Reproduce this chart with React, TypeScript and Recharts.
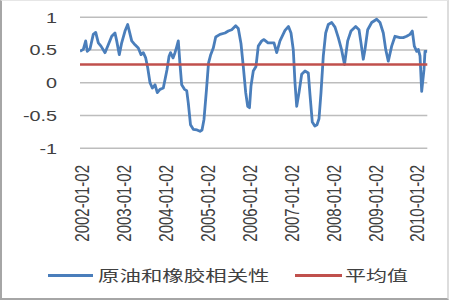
import React from 'react';
import { LineChart, Line, XAxis, YAxis, CartesianGrid, ReferenceLine, Legend } from 'recharts';

const years = [
  2002.000, 2002.079, 2002.136, 2002.174, 2002.239, 2002.317, 2002.375, 2002.437, 2002.501, 2002.597,
  2002.675, 2002.757, 2002.835, 2002.876, 2002.938, 2002.995, 2003.074, 2003.138, 2003.177, 2003.234,
  2003.313, 2003.391, 2003.456, 2003.511, 2003.568, 2003.616, 2003.671, 2003.726, 2003.790, 2003.845,
  2003.909, 2003.988, 2004.045, 2004.076, 2004.124, 2004.160, 2004.220, 2004.267, 2004.308, 2004.346,
  2004.387, 2004.427, 2004.494, 2004.547, 2004.585, 2004.637, 2004.704, 2004.792, 2004.864, 2004.912,
  2004.959, 2005.019, 2005.067, 2005.115, 2005.181, 2005.239, 2005.341, 2005.461, 2005.539, 2005.621,
  2005.716, 2005.778, 2005.842, 2005.897, 2005.955, 2006.002, 2006.045, 2006.081, 2006.136, 2006.200,
  2006.255, 2006.337, 2006.391, 2006.487, 2006.630, 2006.695, 2006.773, 2006.893, 2006.976, 2007.036,
  2007.091, 2007.131, 2007.172, 2007.227, 2007.291, 2007.370, 2007.449, 2007.489, 2007.544, 2007.604,
  2007.656, 2007.704, 2007.752, 2007.807, 2007.864, 2007.926, 2008.007, 2008.086, 2008.165, 2008.241,
  2008.313, 2008.389, 2008.468, 2008.580, 2008.659, 2008.706, 2008.761, 2008.802, 2008.866, 2008.962,
  2009.081, 2009.160, 2009.239, 2009.296, 2009.358, 2009.439, 2009.518, 2009.637, 2009.716, 2009.797,
  2009.876, 2009.931, 2009.979, 2010.036, 2010.074, 2010.115, 2010.155, 2010.210, 2010.234, 2010.289,
];

const corr = [
  0.48, 0.51, 0.64, 0.48, 0.52, 0.74, 0.77, 0.61, 0.56, 0.46,
  0.58, 0.71, 0.76, 0.64, 0.43, 0.61, 0.79, 0.89, 0.79, 0.64,
  0.58, 0.53, 0.43, 0.46, 0.38, 0.23, 0.00, -0.08, -0.03, -0.15,
  -0.10, -0.08, 0.10, 0.20, 0.40, 0.46, 0.38, 0.46, 0.55, 0.64,
  0.28, -0.03, -0.10, -0.12, -0.31, -0.64, -0.71, -0.72, -0.74, -0.72,
  -0.56, -0.10, 0.30, 0.42, 0.53, 0.70, 0.74, 0.76, 0.79, 0.81,
  0.87, 0.83, 0.60, 0.25, -0.15, -0.36, -0.38, -0.05, 0.18, 0.25,
  0.56, 0.64, 0.66, 0.61, 0.61, 0.46, 0.64, 0.80, 0.86, 0.76,
  0.50, 0.00, -0.36, -0.15, 0.13, 0.18, 0.15, -0.18, -0.60, -0.66,
  -0.64, -0.55, -0.15, 0.41, 0.76, 0.89, 0.92, 0.85, 0.69, 0.51,
  0.28, 0.64, 0.79, 0.86, 0.81, 0.61, 0.36, 0.51, 0.81, 0.92,
  0.97, 0.92, 0.76, 0.51, 0.33, 0.56, 0.71, 0.69, 0.69, 0.71,
  0.74, 0.79, 0.56, 0.48, 0.51, 0.41, -0.13, 0.20, 0.48, 0.48,
];

const averageValue = 0.28;
const xTicks = [2002, 2003, 2004, 2005, 2006, 2007, 2008, 2009, 2010];
const yTicks = [-1, -0.5, 0, 0.5, 1];
const seriesName = '原油和橡胶相关性';
const averageName = '平均值';

const data = years.map((t, i) => ({ t, corr: corr[i] }));

const BLUE = '#4A7EBB';
const RED = '#C0504D';
const TEXT = '#404040';
const DIGIT_FONT = '"Liberation Sans", Arial, sans-serif';
const CJK_FONT = '"Noto Sans CJK SC", "Noto Sans", sans-serif';

const YTick = (props: any) => {
  const { x, y, payload } = props;
  return (
    <text
      transform={`translate(${x},${y}) scale(1.32,1)`}
      textAnchor="end"
      dy="0.36em"
      fontSize={15}
      fontFamily={DIGIT_FONT}
      fill={TEXT}
    >
      {String(payload.value)}
    </text>
  );
};

const XTick = (props: any) => {
  const { x, y, payload } = props;
  return (
    <text
      transform={`translate(${x + 2},${y}) scale(1.35,1) rotate(-90)`}
      textAnchor="end"
      dy="0.36em"
      fontSize={15}
      fontFamily={DIGIT_FONT}
      fill={TEXT}
    >
      {`${payload.value}-01-02`}
    </text>
  );
};

const LegendContent = () => (
  <svg width={450} height={40}>
    <line x1={48} x2={93} y1={20.5} y2={20.5} stroke={BLUE} strokeWidth={3} />
    <text
      transform="translate(98,25.5) scale(1.43,1)"
      fontSize={15}
      fontFamily={CJK_FONT}
      fill={TEXT}
    >
      {seriesName}
    </text>
    <line x1={295} x2={342} y1={20.5} y2={20.5} stroke={RED} strokeWidth={3} />
    <text
      transform="translate(345,25.5) scale(1.4,1)"
      fontSize={15}
      fontFamily={CJK_FONT}
      fill={TEXT}
    >
      {averageName}
    </text>
  </svg>
);

export default function App() {
  return (
    <div style={{ position: 'absolute', left: 0, top: 0, width: 450, height: 300, background: '#fff' }}>
      <LineChart
        width={450}
        height={300}
        data={data}
        margin={{ top: 17.3, right: 22.7, bottom: 0, left: 0 }}
      >
        <CartesianGrid vertical={false} stroke="#bdbdbd" strokeWidth={1.5} />
        <XAxis
          dataKey="t"
          type="number"
          domain={[2002, 2010.289]}
          ticks={xTicks}
          allowDataOverflow
          axisLine={false}
          tickLine={false}
          tickSize={0}
          tickMargin={16.7}
          height={151.7}
          interval={0}
          tick={<XTick />}
        />
        <YAxis
          type="number"
          domain={[-1, 1]}
          ticks={yTicks}
          axisLine={false}
          tickLine={false}
          tickSize={0}
          tickMargin={23}
          width={80}
          interval={0}
          tick={<YTick />}
        />
        <Line
          type="linear"
          dataKey="corr"
          name={seriesName}
          stroke={BLUE}
          strokeWidth={2.8}
          dot={false}
          strokeLinejoin="round"
          isAnimationActive={false}
        />
        <ReferenceLine y={averageValue} stroke={RED} strokeWidth={2.5} ifOverflow="extendDomain" />
        <Legend
          layout="horizontal"
          verticalAlign="middle"
          align="center"
          content={<LegendContent />}
          wrapperStyle={{ position: 'absolute', left: 0, top: 255, width: 450, height: 40 }}
        />
      </LineChart>
      <div
        style={{
          position: 'absolute',
          left: 0,
          top: 0,
          width: 449,
          height: 300,
          boxSizing: 'border-box',
          borderLeft: '2px solid #a6a6a6',
          borderBottom: '2px solid #a6a6a6',
          borderTop: '1px solid #e6e6e6',
          borderRight: '2px solid #dddddd',
          pointerEvents: 'none',
        }}
      />
    </div>
  );
}
